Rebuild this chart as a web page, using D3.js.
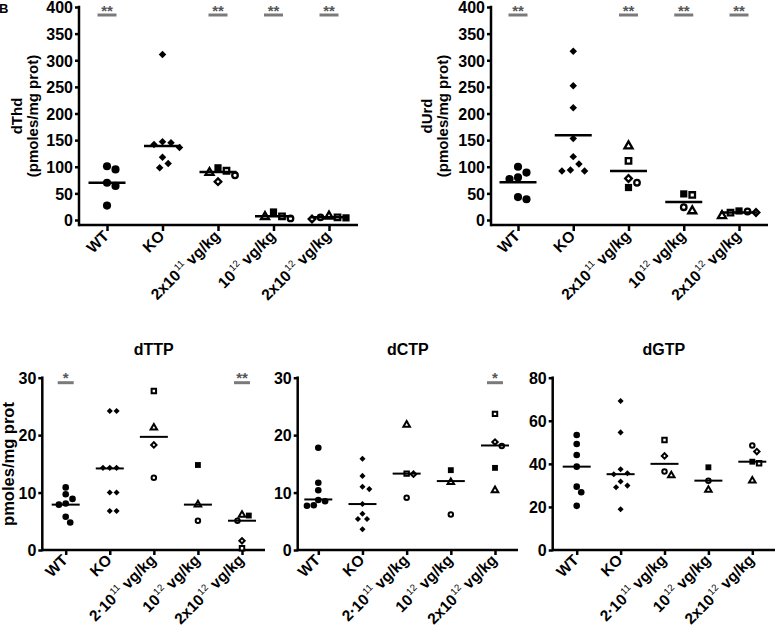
<!DOCTYPE html>
<html><head><meta charset="utf-8">
<script src="https://cdn.jsdelivr.net/npm/d3@7"></script>
<style>
body{margin:0;background:#fff}
svg{display:block}
text{font-family:"Liberation Sans",Arial,Helvetica,sans-serif;font-weight:bold;fill:#000}
</style>
</head><body>
<svg id="c" width="777" height="627"></svg>
<script>
// ---------- DATA ----------
const categories = ["WT", "KO", "2e11", "1e12", "2e12"];
const topTickLabels = [["WT"], ["KO"], ["2x10", "11", " vg/kg"], ["10", "12", " vg/kg"], ["2x10", "12", " vg/kg"]];
const bottomTickLabels = [["WT"], ["KO"], ["2\u00b710", "11", " vg/kg"], ["10", "12", " vg/kg"], ["2x10", "12", " vg/kg"]];
const topYTicks = [0, 50, 100, 150, 200, 250, 300, 350, 400];
const ntpYTicks = [0, 10, 20, 30];
const dgtpYTicks = [0, 20, 40, 60, 80];

// mouse ids in treated groups: a = open triangle, b = filled square, c = open square, d = open diamond, e = open circle
// dThd
const dThdWT = [95, 101, 70, 64, 27];
const dThdKO = [311, 147, 142, 136, 145, 118, 98, 106];
const dThd2e11 = [89, 98, 92.5, 72, 84];
const dThd2e11Mice = ["a", "b", "c", "d", "e"];
const dThd1e12 = [6, 15, 7, 3];
const dThd1e12Mice = ["a", "b", "c", "e"];
const dThd2e12 = [7, 4, 5, 2, 5];
const dThd2e12Mice = ["a", "b", "c", "d", "e"];
const dThdLines = [70, 139, 90, 7, 5];
const dThdSig = ["**", "", "**", "**", "**"];

// dUrd
const dUrdWT = [80, 77, 89, 100, 39, 43];
const dUrdKO = [317, 252, 211, 153, 119, 94, 92, 92, 105];
const dUrd2e11 = [139, 61, 111, 78, 70];
const dUrd2e11Mice = ["a", "b", "c", "d", "e"];
const dUrd1e12 = [17, 49, 47, 24];
const dUrd1e12Mice = ["a", "b", "c", "e"];
const dUrd2e12 = [8, 17, 14, 14, 16];
const dUrd2e12Mice = ["a", "b", "c", "d", "e"];
const dUrdLines = [71, 159, 92, 34, 14];
const dUrdSig = ["**", "", "**", "**", "**"];

// dTTP
const dTTPWT = [10.9, 9.7, 8.9, 7.9, 8.1, 5.8, 4.8];
const dTTPKO = [24.2, 24.2, 14.3, 14.3, 14.3, 10.0, 10.0, 6.8, 6.8];
const dTTP2e11 = [21.3, 27.7, 18.3, 12.6];
const dTTP2e11Mice = ["a", "c", "d", "e"];
const dTTP1e12 = [7.9, 14.8, 5.1];
const dTTP1e12Mice = ["a", "b", "e"];
const dTTP2e12 = [6.1, 6.0, 0.3, 1.6, 5.1];
const dTTP2e12Mice = ["a", "b", "c", "d", "e"];
const dTTPLines = [7.9, 14.2, 19.7, 7.9, 5.1];
const dTTPSig = ["*", "", "", "", "**"];

// dCTP
const dCTPWT = [17.8, 11.7, 10.4, 8.5, 8.7, 7.7, 7.8];
const dCTPKO = [15.9, 12.9, 11.0, 10.6, 8.0, 5.4, 5.4, 6.3, 3.6];
const dCTP2e11 = [21.8, 13.3, 13.2, 9.1];
const dCTP2e11Mice = ["a", "c", "d", "e"];
const dCTP1e12 = [11.8, 13.9, 6.2];
const dCTP1e12Mice = ["a", "b", "e"];
const dCTP2e12 = [10.4, 14.3, 23.7, 18.8, 18.1];
const dCTP2e12Mice = ["a", "b", "c", "d", "e"];
const dCTPLines = [8.8, 8.0, 13.3, 12.0, 18.2];
const dCTPSig = ["", "", "", "", "*"];

// dGTP
const dGTPWT = [53.4, 49.2, 44.1, 38.7, 29.4, 26.8, 20.5];
const dGTPKO = [69.2, 54.6, 37.5, 35.2, 35.6, 29.9, 29.1, 31.8, 18.9];
const dGTP2e11 = [34.6, 51.1, 43.7, 36.4];
const dGTP2e11Mice = ["a", "c", "d", "e"];
const dGTP1e12 = [27.9, 38.4, 32.2];
const dGTP1e12Mice = ["a", "b", "e"];
const dGTP2e12 = [32.2, 41.0, 40.3, 45.7, 48.5];
const dGTP2e12Mice = ["a", "b", "c", "d", "e"];
const dGTPLines = [38.7, 35.2, 40, 32.2, 41];
const dGTPSig = ["", "", "", "", ""];

// ---------- BUILD ----------
function groups(wt, ko, g1, m1, g2, m2, g3, m3) {
  return [
    wt.map(v => ({v, k: "wt"})),
    ko.map(v => ({v, k: "ko"})),
    g1.map((v, i) => ({v, k: m1[i]})),
    g2.map((v, i) => ({v, k: m2[i]})),
    g3.map((v, i) => ({v, k: m3[i]}))
  ];
}

const svg = d3.select("#c");

function marker(g, k, cx, cy, s, sw) {
  let type, area, rot = 0, filled = false;
  switch (k) {
    case "wt": type = d3.symbolCircle; area = 52; filled = true; break;
    case "ko": type = d3.symbolSquare; area = 28; rot = 45; filled = true; break;
    case "a": type = d3.symbolTriangle; area = 28; break;
    case "b": type = d3.symbolSquare; area = 52; filled = true; break;
    case "c": type = d3.symbolSquare; area = 30; break;
    case "d": type = d3.symbolSquare; area = 22; rot = 45; break;
    case "e": type = d3.symbolCircle; area = 24; break;
  }
  const p = g.append("path")
    .attr("d", d3.symbol().type(type).size(area * s)())
    .attr("transform", `translate(${cx},${cy}) rotate(${rot})`);
  if (filled) p.attr("fill", "#000");
  else p.attr("fill", "#fff").attr("stroke", "#000").attr("stroke-width", sw);
}

function swarm(pts, y, D) {
  const sorted = pts.map((p, i) => ({...p, py: y(p.v), i})).sort((a, b) => b.v - a.v);
  const placed = [];
  const step = D / 3;
  sorted.forEach(p => {
    for (let n = 0; n < 200; n++) {
      const k = n === 0 ? 0 : (n % 2 ? Math.ceil(n / 2) : -Math.ceil(n / 2));
      const dx = k * step;
      const ok = placed.every(q => Math.hypot(q.dx - dx, q.py - p.py) >= D);
      if (ok) { p.dx = dx; break; }
    }
    placed.push(p);
  });
  return placed;
}

function panel(cfg) {
  const g = svg.append("g");
  const x = d3.scalePoint().domain(categories).range([cfg.c0, cfg.c1]);
  const y = d3.scaleLinear().domain([0, cfg.max]).range([cfg.y0, cfg.yTop]);

  // y axis
  const ya = g.append("g").attr("transform", `translate(${cfg.x0},0)`)
    .call(d3.axisLeft(y).tickValues(cfg.ticks).tickSize(cfg.tick).tickPadding(2).tickFormat(d3.format("d")));
  ya.select(".domain").remove();
  ya.attr("font-family", null).attr("font-size", null);
  ya.selectAll(".tick line").attr("stroke", "#000").attr("stroke-width", cfg.lw);
  ya.selectAll(".tick text").attr("font-size", cfg.fs).attr("fill", "#000").attr("dy", "0.36em");
  g.append("line").attr("x1", cfg.x0).attr("x2", cfg.x0)
    .attr("y1", cfg.yTop - cfg.lw / 2).attr("y2", cfg.xAxisY + cfg.lw / 2)
    .attr("stroke", "#000").attr("stroke-width", cfg.lw);

  // x axis
  g.append("line").attr("x1", cfg.x0).attr("x2", cfg.x1)
    .attr("y1", cfg.xAxisY).attr("y2", cfg.xAxisY)
    .attr("stroke", "#000").attr("stroke-width", cfg.lw);
  const xa = g.append("g").attr("transform", `translate(0,${cfg.xAxisY})`)
    .call(d3.axisBottom(x).tickSize(cfg.xtick).tickFormat(""));
  xa.select(".domain").remove();
  xa.selectAll(".tick line").attr("stroke", "#000").attr("stroke-width", cfg.lw);

  categories.forEach((c, i) => {
    const parts = cfg.labels[i];
    const t = g.append("text")
      .attr("transform", `translate(${x(c) + cfg.lx},${cfg.xAxisY + cfg.ly}) rotate(-45)`)
      .attr("text-anchor", "end").attr("font-size", cfg.xfs);
    t.append("tspan").text(parts[0]);
    if (parts.length > 1) {
      t.append("tspan").attr("font-size", cfg.xfs * 0.62).attr("font-weight", "normal")
        .attr("dx", 1).attr("dy", -cfg.xfs * 0.42).text(parts[1]);
      t.append("tspan").attr("dy", cfg.xfs * 0.42).text(parts[2]);
    }
  });

  // points
  cfg.groups.forEach((pts, i) => {
    const cx = x(categories[i]);
    swarm(pts, y, cfg.D).forEach(p => marker(g, p.k, cx + p.dx, p.py, cfg.ms, cfg.msw));
  });
  // center lines
  cfg.lines.forEach((v, i) => {
    const cx = x(categories[i]);
    g.append("line").attr("x1", cx - cfg.hw).attr("x2", cx + cfg.hw)
      .attr("y1", y(v)).attr("y2", y(v)).attr("stroke", "#000").attr("stroke-width", cfg.mlw);
  });
  // significance
  cfg.sig.forEach((s, i) => {
    if (!s) return;
    const cx = x(categories[i]);
    const by = y(cfg.max) + cfg.sigOff;
    g.append("line").attr("x1", cx - cfg.sigHw).attr("x2", cx + cfg.sigHw)
      .attr("y1", by).attr("y2", by).attr("stroke", "#7a7a7a").attr("stroke-width", 3);
    g.append("text").attr("x", cx).attr("y", by + 0.5).attr("text-anchor", "middle")
      .attr("font-size", 15).attr("font-weight", "normal").style("fill", "#555").text(s);
  });

  // y label
  const yl = g.append("text").attr("transform", `translate(${cfg.ylx},${cfg.yly}) rotate(-90)`)
    .attr("text-anchor", "middle").attr("font-size", cfg.ylfs);
  cfg.ylabel.forEach((l, j) => yl.append("tspan").attr("x", 0).attr("dy", j ? cfg.ylfs * 1.08 : 0).text(l));
  if (cfg.title) {
    g.append("text").attr("x", (cfg.x0 + cfg.x1) / 2).attr("y", cfg.titleY)
      .attr("text-anchor", "middle").attr("font-size", 16).text(cfg.title);
  }
}

const topBase = {max: 400, ticks: topYTicks, yTop: 7, y0: 220, xAxisY: 225, tick: 4, xtick: 6, lw: 2.5,
  fs: 16, xfs: 15.5, lx: 3, ly: 12, labels: topTickLabels, D: 8.5, ms: 1, msw: 2.3, hw: 18.5, mlw: 2.5,
  sigOff: 8, sigHw: 9.5, ylfs: 15, yly: 116};
const botBase = {yTop: 377.7, y0: 550, xAxisY: 550, tick: 4, xtick: 5, lw: 2.5,
  fs: 16, xfs: 15.5, lx: 3, ly: 11, labels: bottomTickLabels, D: 6.8, ms: 0.66, msw: 2, hw: 14, mlw: 2,
  sigOff: 5, sigHw: 8, ylfs: 16.5, yly: 464, titleY: 355};

panel({...topBase, x0: 79, x1: 358, c0: 107, c1: 329,
  groups: groups(dThdWT, dThdKO, dThd2e11, dThd2e11Mice, dThd1e12, dThd1e12Mice, dThd2e12, dThd2e12Mice),
  lines: dThdLines, sig: dThdSig, ylabel: ["dThd", "(pmoles/mg prot)"], ylx: 22});
panel({...topBase, x0: 491, x1: 768, c0: 518, c1: 739,
  groups: groups(dUrdWT, dUrdKO, dUrd2e11, dUrd2e11Mice, dUrd1e12, dUrd1e12Mice, dUrd2e12, dUrd2e12Mice),
  lines: dUrdLines, sig: dUrdSig, ylabel: ["dUrd", "(pmoles/mg prot)"], ylx: 432});
panel({...botBase, max: 30, ticks: ntpYTicks, x0: 42.3, x1: 265, c0: 65.7, c1: 242,
  groups: groups(dTTPWT, dTTPKO, dTTP2e11, dTTP2e11Mice, dTTP1e12, dTTP1e12Mice, dTTP2e12, dTTP2e12Mice),
  lines: dTTPLines, sig: dTTPSig, ylabel: ["pmoles/mg prot"], ylx: 14, title: "dTTP"});
panel({...botBase, max: 30, ticks: ntpYTicks, x0: 297.7, x1: 518, c0: 318.3, c1: 495,
  groups: groups(dCTPWT, dCTPKO, dCTP2e11, dCTP2e11Mice, dCTP1e12, dCTP1e12Mice, dCTP2e12, dCTP2e12Mice),
  lines: dCTPLines, sig: dCTPSig, ylabel: [], ylx: 0, title: "dCTP"});
panel({...botBase, max: 80, ticks: dgtpYTicks, x0: 552.7, x1: 775, c0: 576.7, c1: 752.3,
  groups: groups(dGTPWT, dGTPKO, dGTP2e11, dGTP2e11Mice, dGTP1e12, dGTP1e12Mice, dGTP2e12, dGTP2e12Mice),
  lines: dGTPLines, sig: dGTPSig, ylabel: [], ylx: 0, title: "dGTP"});

svg.append("text").attr("x", -1).attr("y", 13).attr("font-size", 13).text("B");
</script>
</body></html>
